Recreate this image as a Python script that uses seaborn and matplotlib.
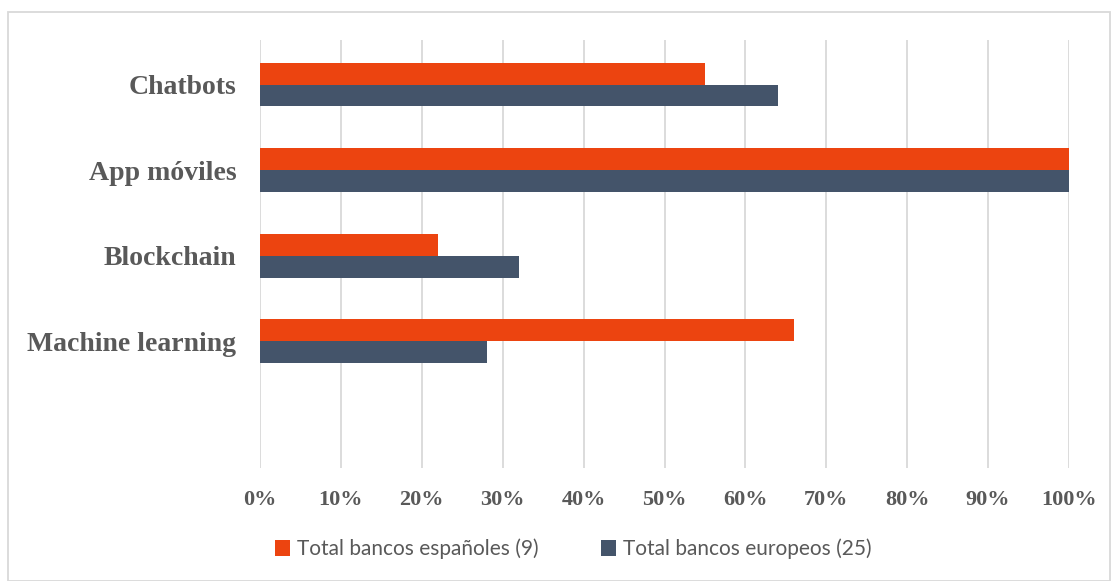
import matplotlib
matplotlib.use("Agg")
import matplotlib.pyplot as plt
import seaborn as sns
import pandas as pd
from matplotlib.patches import Rectangle
from matplotlib.ticker import PercentFormatter

categories = ["Chatbots", "App móviles", "Blockchain", "Machine learning"]
series_names = ["Total bancos españoles (9)", "Total bancos europeos (25)"]
espanoles = [55, 100, 22, 66]
europeos = [64, 100, 32, 28]
colors = ["#EC4410", "#44546A"]

df = pd.DataFrame({
    "cat": categories * 2,
    "serie": [series_names[0]] * 4 + [series_names[1]] * 4,
    "val": espanoles + europeos,
})

sns.set_theme(style="white")
fig = plt.figure(figsize=(11.15, 5.81), dpi=100)
ax = fig.add_axes([260/1115, 1-468/581, (1069-260)/1115, (468-40)/581])

sns.barplot(data=df, y="cat", x="val", hue="serie", order=categories,
            hue_order=series_names, palette=colors, orient="h", ax=ax,
            width=0.51, saturation=1, legend=True, edgecolor="none")

ax.set_xlim(0, 100)
ax.set_ylim(4.48, -0.52)
ax.set_xticks(range(0, 101, 10))
ax.xaxis.set_major_formatter(PercentFormatter(decimals=0))
ax.grid(axis="x", color="#D9D9D9", linewidth=1.3)
ax.grid(axis="y", visible=False)
ax.set_axisbelow(True)
for s in ax.spines.values():
    s.set_visible(False)
ax.set_xlabel("")
ax.set_ylabel("")
ax.tick_params(axis="both", length=0)
ax.tick_params(axis="x", pad=16)
ax.tick_params(axis="y", pad=17)
for lab in ax.get_xticklabels():
    lab.set_fontfamily("Liberation Serif")
    lab.set_fontweight("bold")
    lab.set_fontsize(16)
    lab.set_color("#595959")
for lab in ax.get_yticklabels():
    lab.set_fontfamily("Liberation Serif")
    lab.set_fontweight("bold")
    lab.set_fontsize(20)
    lab.set_color("#595959")

ax.legend_.remove()
handles, labels = ax.get_legend_handles_labels()
leg = fig.legend(handles, labels, loc="center", bbox_to_anchor=(573/1115, 1-549/581),
                 ncol=2, frameon=False, handlelength=0.75, handleheight=0.75,
                 handletextpad=0.3, columnspacing=3.0,
                 prop={"family": "Lato", "size": 15})
for t in leg.get_texts():
    t.set_color("#595959")

fig.patches.append(Rectangle((8/1115, 0), 1102/1115, 1-12/581, transform=fig.transFigure,
                             fill=False, edgecolor="#D9D9D9", linewidth=1.3))

fig.savefig("out.png", dpi=100)
